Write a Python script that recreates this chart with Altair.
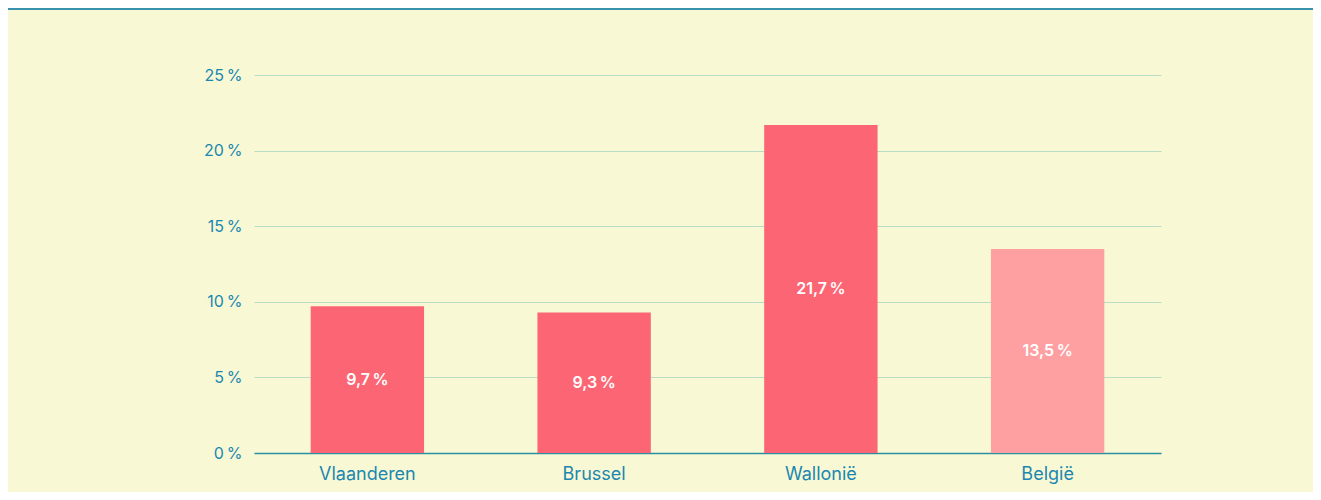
import altair as alt
import pandas as pd

regions = ["Vlaanderen", "Brussel", "Wallonië", "België"]
values = [9.7, 9.3, 21.7, 13.5]
labels = ["9,7\u202f%", "9,3\u202f%", "21,7\u202f%", "13,5\u202f%"]
colors = ["#fc6674", "#fc6674", "#fc6674", "#fea0a1"]

df = pd.DataFrame({"regio": regions, "waarde": values, "label": labels, "kleur": colors})
df["mid"] = df["waarde"] / 2

FONT = "Inter"
BLUE = "#1b87b0"

x = alt.X("regio:N", sort=regions, title=None,
          scale=alt.Scale(paddingInner=0.5, paddingOuter=0.25),
          axis=alt.Axis(labelAngle=0, ticks=False, domainColor="#2a8fa0", domainWidth=1.5,
                        labelColor=BLUE, labelFontSize=18, labelFont=FONT, labelPadding=12,
                        grid=False))

bars = alt.Chart(df).mark_bar().encode(
    x=x,
    y=alt.Y("waarde:Q", title=None,
            scale=alt.Scale(domain=[0, 25], nice=False),
            axis=alt.Axis(values=[0, 5, 10, 15, 20, 25], labelExpr="datum.value + '\u202f%'",
                          domain=False, ticks=False, labelColor=BLUE, labelFontSize=16,
                          labelFont=FONT, labelPadding=12, gridColor="#b9dcc4", gridWidth=1.2)),
    color=alt.Color("kleur:N", scale=None),
)

text = alt.Chart(df).mark_text(color="white", fontSize=16, fontWeight=600, font=FONT).encode(
    x=alt.X("regio:N", sort=regions),
    y=alt.Y("mid:Q"),
    text="label:N",
)

topline = alt.Chart(pd.DataFrame({"a": [0]})).mark_rule(color="#3a93ad", strokeWidth=2).encode(
    x=alt.value(-246), x2=alt.value(1059), y=alt.value(-66)
)

chart = alt.layer(bars, text, topline).properties(
    width=907, height=378,
    autosize=alt.AutoSizeParams(type="none"),
    padding={"left": 246, "top": 67, "right": 152, "bottom": 39},
    background="#f8f9d4",
).configure_view(stroke=None)

chart.save("out.html", embed_options={"renderer": "svg", "actions": False})
